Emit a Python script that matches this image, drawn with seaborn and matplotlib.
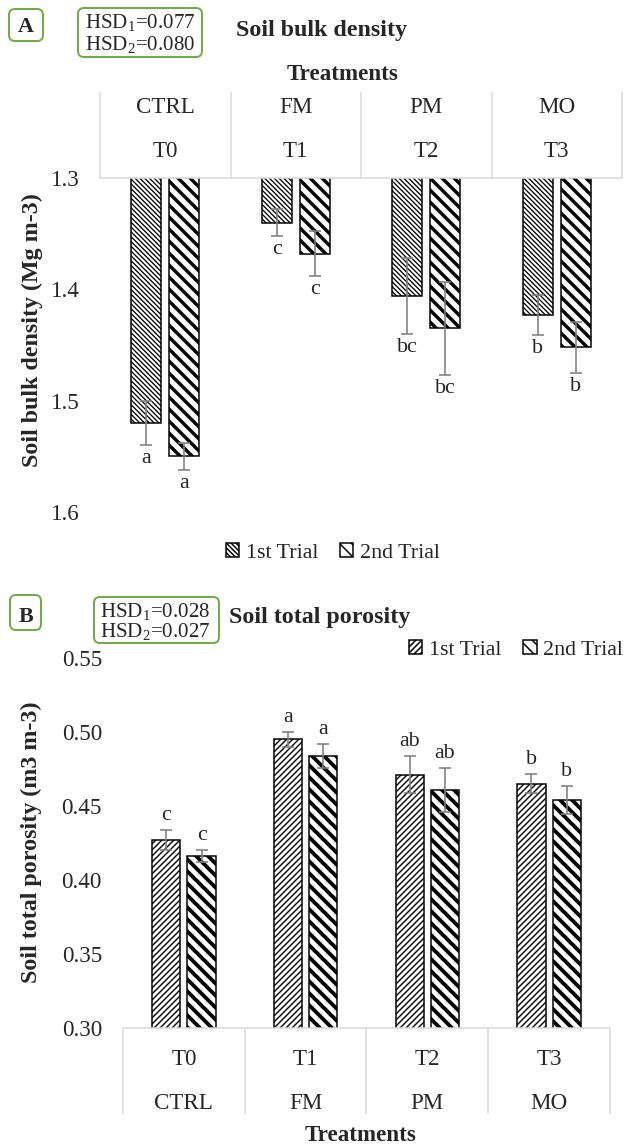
import numpy as np
import pandas as pd
import matplotlib
matplotlib.use("Agg")
import matplotlib.pyplot as plt
import seaborn as sns
from matplotlib.patches import FancyBboxPatch

# ---------------- data ----------------
treat_codes = ["T0", "T1", "T2", "T3"]
treat_names = ["CTRL", "FM", "PM", "MO"]
trials = ["1st Trial", "2nd Trial"]

bd_trial1 = [1.520, 1.340, 1.406, 1.423]
bd_trial2 = [1.550, 1.368, 1.435, 1.452]
bd_err1 = [0.020, 0.012, 0.034, 0.018]
bd_err2 = [0.012, 0.020, 0.042, 0.023]
bd_letters1 = ["a", "c", "bc", "b"]
bd_letters2 = ["a", "c", "bc", "b"]
bd_ticks = [1.3, 1.4, 1.5, 1.6]

por_trial1 = [0.427, 0.495, 0.471, 0.465]
por_trial2 = [0.416, 0.484, 0.461, 0.454]
por_err1 = [0.007, 0.005, 0.0125, 0.0065]
por_err2 = [0.004, 0.008, 0.015, 0.0095]
por_letters1 = ["c", "a", "ab", "b"]
por_letters2 = ["c", "a", "ab", "b"]
por_ticks = [0.30, 0.35, 0.40, 0.45, 0.50, 0.55]

hsd_A = ["0.077", "0.080"]
hsd_B = ["0.028", "0.027"]

# ---------------- style ----------------
W, H, DPI = 626, 1144, 72
sns.set_style("white")
plt.rcParams["font.family"] = ["Liberation Serif", "DejaVu Serif"]
plt.rcParams["mathtext.fontset"] = "custom"
plt.rcParams["mathtext.rm"] = "Liberation Serif"
plt.rcParams["mathtext.it"] = "Liberation Serif:italic"
plt.rcParams["mathtext.bf"] = "Liberation Serif:bold"
plt.rcParams["hatch.linewidth"] = 1.5

GREEN = "#70ad47"
SEP = "#d9d9d9"
ERRC = "#808080"
TICK_FS = 23

fig = plt.figure(figsize=(W / DPI, H / DPI), dpi=DPI)


def rect(l, t, r, b):
    return [l / W, 1 - b / H, (r - l) / W, (b - t) / H]


axA = fig.add_axes(rect(100, 178, 622, 512))
axB = fig.add_axes(rect(123, 658, 610, 1028))

dfA = pd.DataFrame({"code": treat_codes * 2,
                    "trial": np.repeat(trials, 4),
                    "value": bd_trial1 + bd_trial2})
dfB = pd.DataFrame({"code": treat_codes * 2,
                    "trial": np.repeat(trials, 4),
                    "value": por_trial1 + por_trial2})

for ax, df in [(axA, dfA), (axB, dfB)]:
    sns.barplot(data=df, x="code", y="value", hue="trial", ax=ax,
                width=0.58, gap=0.2, palette=["white", "white"],
                edgecolor="black", linewidth=1.5, errorbar=None,
                legend=False, saturation=1)


def style_bars(ax, specs):
    for cont, (hatch, hlw) in zip(ax.containers, specs):
        for bar in cont:
            bar.set_hatch(hatch)
            if hasattr(bar, "set_hatch_linewidth"):
                bar.set_hatch_linewidth(hlw)


style_bars(axA, [("\\" * 5, 1.3), ("\\" * 2, 3.4)])
style_bars(axB, [("/" * 4, 1.4), ("\\" * 2, 3.8)])


def add_err(ax, vals_list, errs_list, lets_list, va, offs):
    for cont, vals, errs, lets in zip(ax.containers, vals_list, errs_list, lets_list):
        xs = [b.get_x() + b.get_width() / 2 for b in cont]
        ax.errorbar(xs, vals, yerr=errs, fmt="none", ecolor=ERRC,
                    elinewidth=1.6, capsize=6, capthick=1.6, zorder=3)
        for x, v, e, l in zip(xs, vals, errs, lets):
            ax.annotate(l, xy=(x, v + e), xytext=(0, offs),
                        textcoords="offset points", ha="center", va=va,
                        fontsize=22)


add_err(axA, [bd_trial1, bd_trial2], [bd_err1, bd_err2],
        [bd_letters1, bd_letters2], "top", -4)
add_err(axB, [por_trial1, por_trial2], [por_err1, por_err2],
        [por_letters1, por_letters2], "bottom", 5)

# ---------------- panel A axes ----------------
axA.set_ylim(1.6, 1.3)
axA.set_xlim(-0.5, 3.5)
axA.set_xlabel("")
axA.set_ylabel("")
for s in ["left", "right", "bottom"]:
    axA.spines[s].set_visible(False)
axA.spines["top"].set_visible(True)
axA.spines["top"].set_color(SEP)
axA.spines["top"].set_linewidth(1.5)
axA.xaxis.tick_top()
axA.set_xticks(range(4))
axA.set_xticklabels(treat_codes)
axA.tick_params(axis="x", which="major", length=0, pad=16, labelsize=TICK_FS,
                top=True, bottom=False, labeltop=True, labelbottom=False)
axA.set_xticks([-0.5, 0.5, 1.5, 2.5, 3.5], minor=True)
axA.tick_params(axis="x", which="minor", length=86, width=1.5, color=SEP,
                top=True, bottom=False, direction="out")
axA.set_yticks(bd_ticks)
axA.set_yticklabels([f"{t:.1f}" for t in bd_ticks])
axA.tick_params(axis="y", length=0, pad=20, labelsize=TICK_FS)
secA = axA.secondary_xaxis("top")
secA.set_xticks(range(4))
secA.set_xticklabels(treat_names)
secA.tick_params(length=0, pad=60, labelsize=TICK_FS)
for s in secA.spines.values():
    s.set_visible(False)

# ---------------- panel B axes ----------------
axB.set_ylim(0.30, 0.55)
axB.set_xlim(-0.5, 3.5)
axB.set_xlabel("")
axB.set_ylabel("")
for s in ["left", "right", "top"]:
    axB.spines[s].set_visible(False)
axB.spines["bottom"].set_visible(True)
axB.spines["bottom"].set_color(SEP)
axB.spines["bottom"].set_linewidth(1.5)
axB.set_xticks(range(4))
axB.set_xticklabels(treat_codes)
axB.tick_params(axis="x", which="major", length=0, pad=21, labelsize=TICK_FS)
axB.set_xticks([-0.5, 0.5, 1.5, 2.5, 3.5], minor=True)
axB.tick_params(axis="x", which="minor", length=86, width=1.5, color=SEP,
                bottom=True, direction="out")
axB.set_yticks(por_ticks)
axB.set_yticklabels([f"{t:.2f}" for t in por_ticks])
axB.tick_params(axis="y", length=0, pad=21, labelsize=TICK_FS)
secB = axB.secondary_xaxis("bottom")
secB.set_xticks(range(4))
secB.set_xticklabels(treat_names)
secB.tick_params(length=0, pad=65, labelsize=TICK_FS)
for s in secB.spines.values():
    s.set_visible(False)

# ---------------- legends ----------------
legkw = dict(ncol=2, frameon=False, fontsize=22, handlelength=0.6,
             handleheight=0.6, handletextpad=0.3, columnspacing=1.0,
             borderpad=0, borderaxespad=0)
fig.legend([axA.containers[0][0], axA.containers[1][0]], trials,
           loc="center", bbox_to_anchor=(333 / W, 1 - 553 / H), **legkw)
fig.legend([axB.containers[0][0], axB.containers[1][0]], trials,
           loc="center right", bbox_to_anchor=(623 / W, 1 - 650 / H), **legkw)

# ---------------- overlay texts / boxes (pixel coordinates) ----------------
ov = fig.add_axes([0, 0, 1, 1], zorder=10)
ov.set_xlim(0, W)
ov.set_ylim(H, 0)
ov.axis("off")
ov.patch.set_visible(False)


def box(x0, y0, x1, y1):
    ov.add_patch(FancyBboxPatch((x0, y0), x1 - x0, y1 - y0,
                                boxstyle="round,pad=0,rounding_size=6",
                                fc="white", ec=GREEN, lw=2))


# Panel A header
box(9, 9, 43, 41)
ov.text(26, 32, "A", ha="center", va="baseline", fontsize=22, fontweight="bold")
box(78, 8, 202, 57)
ov.text(85, 28, "HSD$_1$=" + hsd_A[0], ha="left", va="baseline", fontsize=21)
ov.text(85, 50, "HSD$_2$=" + hsd_A[1], ha="left", va="baseline", fontsize=21)
ov.text(236, 36, "Soil bulk density", ha="left", va="baseline",
        fontsize=24, fontweight="bold")
ov.text(287, 80, "Treatments", ha="left", va="baseline",
        fontsize=23, fontweight="bold")
ov.text(32, 330, "Soil bulk density (Mg m-3)", rotation=90, ha="center",
        va="center", fontsize=24, fontweight="bold")

# Panel B header
box(10, 595, 41, 630)
ov.text(26, 622, "B", ha="center", va="baseline", fontsize=22, fontweight="bold")
box(94, 597, 219, 643)
ov.text(100, 617, "HSD$_1$=" + hsd_B[0], ha="left", va="baseline", fontsize=21)
ov.text(100, 637, "HSD$_2$=" + hsd_B[1], ha="left", va="baseline", fontsize=21)
ov.text(229, 623, "Soil total porosity", ha="left", va="baseline",
        fontsize=24, fontweight="bold")
ov.text(361, 1141, "Treatments", ha="center", va="baseline",
        fontsize=23, fontweight="bold")
ov.text(31, 842, "Soil total porosity (m3 m-3)", rotation=90, ha="center",
        va="center", fontsize=24, fontweight="bold")

fig.savefig("out.png", dpi=DPI)
